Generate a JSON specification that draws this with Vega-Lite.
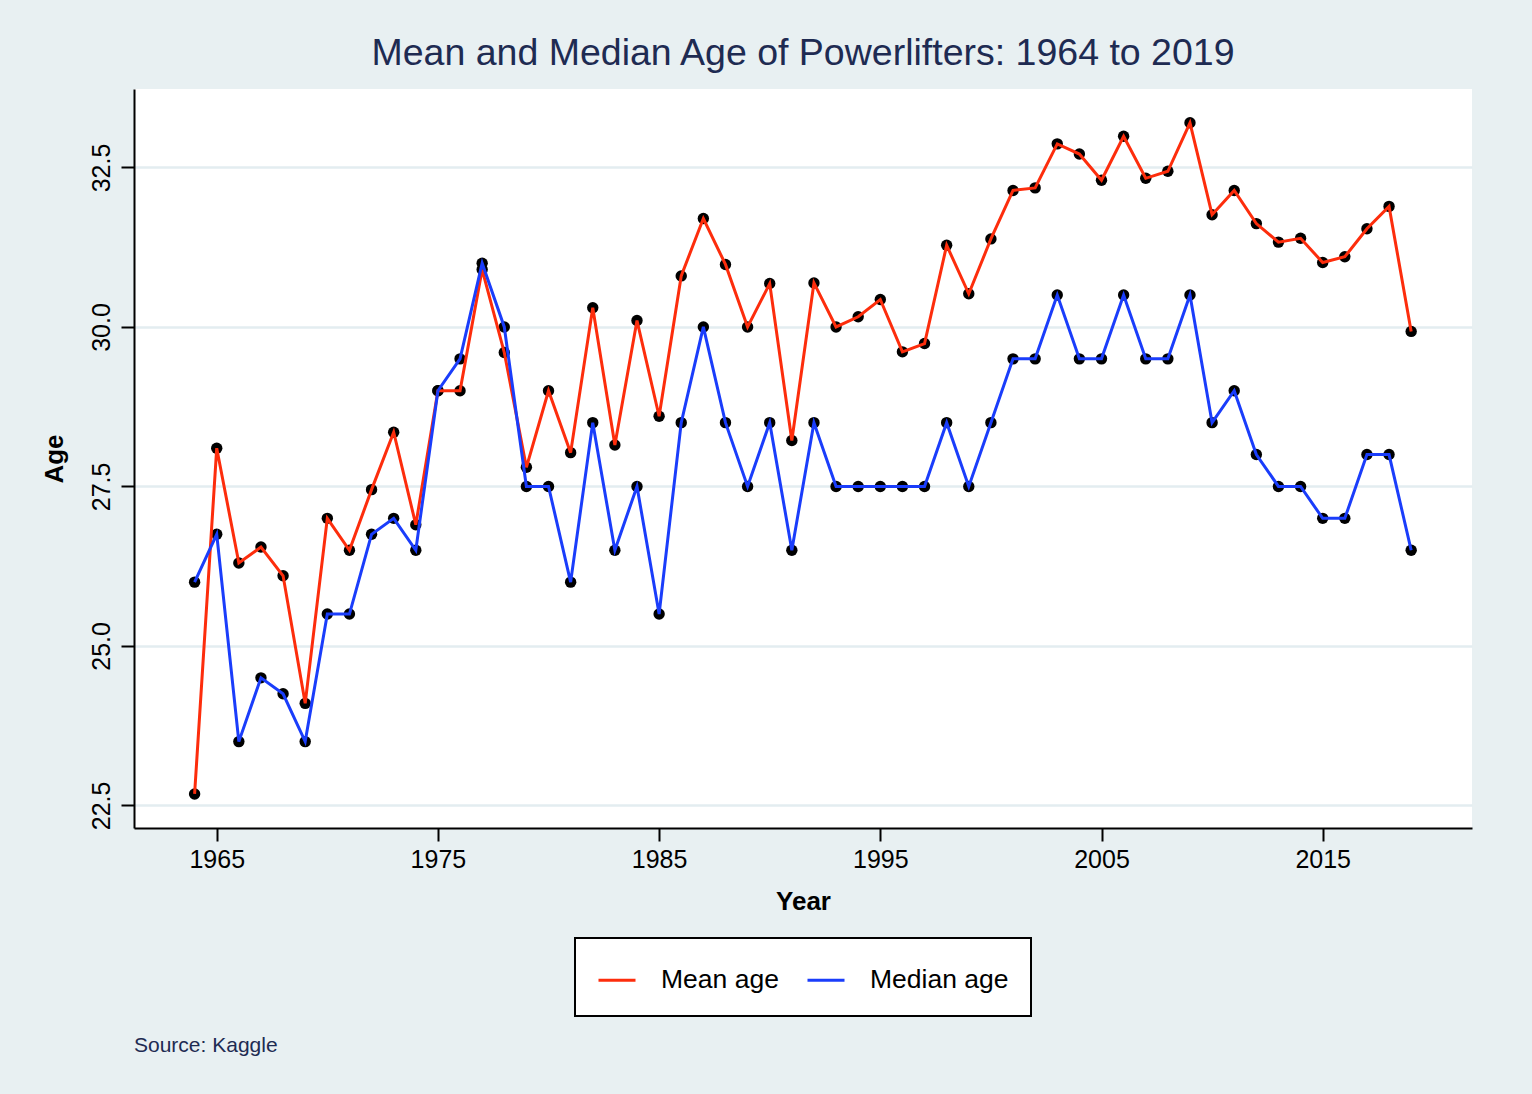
{
  "$schema": "https://vega.github.io/schema/vega-lite/v6.json",
  "autosize": "none",
  "padding": {"left": 134, "top": 89, "right": 1398, "bottom": 1005},
  "background": "#e8f0f2",
  "title": {
    "text": "Source: Kaggle",
    "orient": "bottom",
    "anchor": "start",
    "fontSize": 21,
    "fontWeight": "normal",
    "color": "#1e2b52",
    "baseline": "top",
    "offset": 18,
    "dx": 93
  },
  "vconcat": [
    {
      "width": 1338,
      "height": 739,
      "title": {
        "text": "Mean and Median Age of Powerlifters: 1964 to 2019",
        "anchor": "middle",
        "frame": "group",
        "fontSize": 37.5,
        "fontWeight": "normal",
        "color": "#1e2b52",
        "baseline": "alphabetic",
        "offset": -13
      },
      "data": {
        "values": [
          {"year": 1964, "series": "Mean age", "age": 22.68},
          {"year": 1965, "series": "Mean age", "age": 28.1},
          {"year": 1966, "series": "Mean age", "age": 26.3},
          {"year": 1967, "series": "Mean age", "age": 26.55},
          {"year": 1968, "series": "Mean age", "age": 26.1},
          {"year": 1969, "series": "Mean age", "age": 24.1},
          {"year": 1970, "series": "Mean age", "age": 27.0},
          {"year": 1971, "series": "Mean age", "age": 26.5},
          {"year": 1972, "series": "Mean age", "age": 27.45},
          {"year": 1973, "series": "Mean age", "age": 28.35},
          {"year": 1974, "series": "Mean age", "age": 26.9},
          {"year": 1975, "series": "Mean age", "age": 29.0},
          {"year": 1976, "series": "Mean age", "age": 29.0},
          {"year": 1977, "series": "Mean age", "age": 30.9},
          {"year": 1978, "series": "Mean age", "age": 29.6},
          {"year": 1979, "series": "Mean age", "age": 27.8},
          {"year": 1980, "series": "Mean age", "age": 29.0},
          {"year": 1981, "series": "Mean age", "age": 28.03},
          {"year": 1982, "series": "Mean age", "age": 30.3},
          {"year": 1983, "series": "Mean age", "age": 28.15},
          {"year": 1984, "series": "Mean age", "age": 30.1},
          {"year": 1985, "series": "Mean age", "age": 28.6},
          {"year": 1986, "series": "Mean age", "age": 30.8},
          {"year": 1987, "series": "Mean age", "age": 31.7},
          {"year": 1988, "series": "Mean age", "age": 30.98},
          {"year": 1989, "series": "Mean age", "age": 30.0},
          {"year": 1990, "series": "Mean age", "age": 30.68},
          {"year": 1991, "series": "Mean age", "age": 28.22},
          {"year": 1992, "series": "Mean age", "age": 30.69},
          {"year": 1993, "series": "Mean age", "age": 30.0},
          {"year": 1994, "series": "Mean age", "age": 30.16},
          {"year": 1995, "series": "Mean age", "age": 30.43},
          {"year": 1996, "series": "Mean age", "age": 29.61},
          {"year": 1997, "series": "Mean age", "age": 29.74},
          {"year": 1998, "series": "Mean age", "age": 31.28},
          {"year": 1999, "series": "Mean age", "age": 30.52},
          {"year": 2000, "series": "Mean age", "age": 31.38},
          {"year": 2001, "series": "Mean age", "age": 32.14},
          {"year": 2002, "series": "Mean age", "age": 32.18},
          {"year": 2003, "series": "Mean age", "age": 32.87},
          {"year": 2004, "series": "Mean age", "age": 32.71},
          {"year": 2005, "series": "Mean age", "age": 32.3},
          {"year": 2006, "series": "Mean age", "age": 32.99},
          {"year": 2007, "series": "Mean age", "age": 32.33},
          {"year": 2008, "series": "Mean age", "age": 32.44},
          {"year": 2009, "series": "Mean age", "age": 33.2},
          {"year": 2010, "series": "Mean age", "age": 31.76},
          {"year": 2011, "series": "Mean age", "age": 32.14},
          {"year": 2012, "series": "Mean age", "age": 31.62},
          {"year": 2013, "series": "Mean age", "age": 31.33},
          {"year": 2014, "series": "Mean age", "age": 31.39},
          {"year": 2015, "series": "Mean age", "age": 31.01},
          {"year": 2016, "series": "Mean age", "age": 31.1},
          {"year": 2017, "series": "Mean age", "age": 31.54},
          {"year": 2018, "series": "Mean age", "age": 31.89},
          {"year": 2019, "series": "Mean age", "age": 29.93},
          {"year": 1964, "series": "Median age", "age": 26.0},
          {"year": 1965, "series": "Median age", "age": 26.75},
          {"year": 1966, "series": "Median age", "age": 23.5},
          {"year": 1967, "series": "Median age", "age": 24.5},
          {"year": 1968, "series": "Median age", "age": 24.25},
          {"year": 1969, "series": "Median age", "age": 23.5},
          {"year": 1970, "series": "Median age", "age": 25.5},
          {"year": 1971, "series": "Median age", "age": 25.5},
          {"year": 1972, "series": "Median age", "age": 26.75},
          {"year": 1973, "series": "Median age", "age": 27.0},
          {"year": 1974, "series": "Median age", "age": 26.5},
          {"year": 1975, "series": "Median age", "age": 29.0},
          {"year": 1976, "series": "Median age", "age": 29.5},
          {"year": 1977, "series": "Median age", "age": 31.0},
          {"year": 1978, "series": "Median age", "age": 30.0},
          {"year": 1979, "series": "Median age", "age": 27.5},
          {"year": 1980, "series": "Median age", "age": 27.5},
          {"year": 1981, "series": "Median age", "age": 26.0},
          {"year": 1982, "series": "Median age", "age": 28.5},
          {"year": 1983, "series": "Median age", "age": 26.5},
          {"year": 1984, "series": "Median age", "age": 27.5},
          {"year": 1985, "series": "Median age", "age": 25.5},
          {"year": 1986, "series": "Median age", "age": 28.5},
          {"year": 1987, "series": "Median age", "age": 30.0},
          {"year": 1988, "series": "Median age", "age": 28.5},
          {"year": 1989, "series": "Median age", "age": 27.5},
          {"year": 1990, "series": "Median age", "age": 28.5},
          {"year": 1991, "series": "Median age", "age": 26.5},
          {"year": 1992, "series": "Median age", "age": 28.5},
          {"year": 1993, "series": "Median age", "age": 27.5},
          {"year": 1994, "series": "Median age", "age": 27.5},
          {"year": 1995, "series": "Median age", "age": 27.5},
          {"year": 1996, "series": "Median age", "age": 27.5},
          {"year": 1997, "series": "Median age", "age": 27.5},
          {"year": 1998, "series": "Median age", "age": 28.5},
          {"year": 1999, "series": "Median age", "age": 27.5},
          {"year": 2000, "series": "Median age", "age": 28.5},
          {"year": 2001, "series": "Median age", "age": 29.5},
          {"year": 2002, "series": "Median age", "age": 29.5},
          {"year": 2003, "series": "Median age", "age": 30.5},
          {"year": 2004, "series": "Median age", "age": 29.5},
          {"year": 2005, "series": "Median age", "age": 29.5},
          {"year": 2006, "series": "Median age", "age": 30.5},
          {"year": 2007, "series": "Median age", "age": 29.5},
          {"year": 2008, "series": "Median age", "age": 29.5},
          {"year": 2009, "series": "Median age", "age": 30.5},
          {"year": 2010, "series": "Median age", "age": 28.5},
          {"year": 2011, "series": "Median age", "age": 29.0},
          {"year": 2012, "series": "Median age", "age": 28.0},
          {"year": 2013, "series": "Median age", "age": 27.5},
          {"year": 2014, "series": "Median age", "age": 27.5},
          {"year": 2015, "series": "Median age", "age": 27.0},
          {"year": 2016, "series": "Median age", "age": 27.0},
          {"year": 2017, "series": "Median age", "age": 28.0},
          {"year": 2018, "series": "Median age", "age": 28.0},
          {"year": 2019, "series": "Median age", "age": 26.5}
        ]
      },
      "encoding": {
        "x": {
          "field": "year",
          "type": "quantitative",
          "title": "Year",
          "scale": {"domain": [1961.26, 2021.75], "nice": false, "zero": false},
          "axis": {
            "values": [1965, 1975, 1985, 1995, 2005, 2015],
            "format": "d",
            "grid": false,
            "labelPadding": 6,
            "titlePadding": 16
          }
        },
        "y": {
          "field": "age",
          "type": "quantitative",
          "title": "Age",
          "scale": {"domain": [22.146, 33.73], "nice": false, "zero": false},
          "axis": {
            "values": [22.5, 25, 27.5, 30, 32.5],
            "format": ".1f",
            "grid": true,
            "gridColor": "#e3edf0",
            "gridWidth": 2.5,
            "labelAngle": 270,
            "labelAlign": "center",
            "labelBaseline": "alphabetic",
            "labelPadding": 12,
            "titlePadding": 22
          }
        }
      },
      "layer": [
        {
          "mark": {"type": "point", "filled": true, "shape": "circle", "size": 130, "color": "black", "opacity": 1}
        },
        {
          "mark": {"type": "line", "strokeWidth": 3},
          "encoding": {
            "color": {
              "field": "series",
              "type": "nominal",
              "scale": {"domain": ["Mean age", "Median age"], "range": ["#fd2d0c", "#1a3dfb"]},
              "legend": {
                "title": null,
                "orient": "none",
                "legendX": 441,
                "legendY": 849,
                "direction": "horizontal",
                "fillColor": "white",
                "strokeColor": "black",
                "padding": 22,
                "symbolType": "stroke",
                "symbolSize": 1369,
                "symbolStrokeWidth": 3,
                "labelFontSize": 26.5,
                "labelColor": "black",
                "labelOffset": 24,
                "columnPadding": 22
              }
            }
          }
        }
      ]
    }
  ],
  "config": {
    "font": "Liberation Sans",
    "view": {"fill": "white", "stroke": null},
    "axis": {
      "domainColor": "black",
      "domainWidth": 2,
      "tickColor": "black",
      "tickWidth": 2,
      "tickSize": 13,
      "labelFontSize": 25,
      "labelColor": "black",
      "titleFontSize": 26,
      "titleFontWeight": "bold",
      "titleColor": "black"
    },
    "legend": {"strokeWidth": 2}
  }
}
